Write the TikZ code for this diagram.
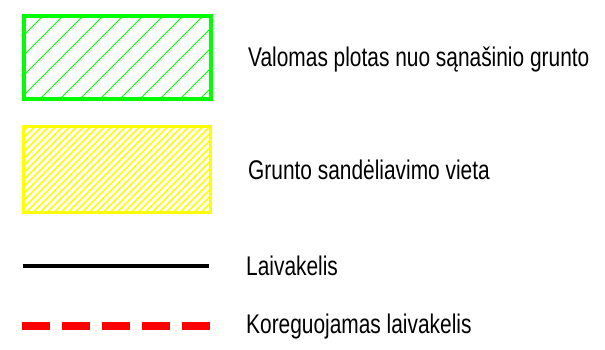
\documentclass[tikz,border=0pt]{standalone}
\usepackage{fontspec}
\setmainfont{Liberation Sans}
\definecolor{lgreen}{HTML}{00FF00}
\definecolor{lyellow}{HTML}{FFFF00}
\definecolor{lred}{HTML}{FF0000}
\tikzset{
  lbl/.style={anchor=base west, inner sep=0pt, font=\fontsize{27}{30}\selectfont},
}
\newcommand{\sq}[1]{\scalebox{0.774}[1]{#1}}
\begin{document}
\begin{tikzpicture}[x=1pt,y=-1pt]
\useasboundingbox (0,0) rectangle (605,349);
% green hatched box
\begin{scope}
  \clip (24,16) rectangle (211,99);
  \foreach \i in {-100,-80,...,220} {
    \draw[lgreen, line width=1pt] (\i,99) -- (\i+83,16);
  }
\end{scope}
\node[draw=lgreen, line width=4pt, minimum width=187pt, minimum height=83pt, inner sep=0pt, outer sep=0pt] (gbox) at (117.5,57.5) {};
% yellow hatched box
\begin{scope}
  \clip (23.5,126.5) rectangle (210.5,212.5);
  \foreach \i in {-100,-93,...,220} {
    \draw[lyellow, line width=1.6pt] (\i,212.5) -- (\i+86,126.5);
  }
\end{scope}
\node[draw=lyellow, line width=3pt, minimum width=187pt, minimum height=86pt, inner sep=0pt, outer sep=0pt] (ybox) at (117,169.5) {};
% black line
\coordinate (l1a) at (23,266);
\coordinate (l1b) at (209,266);
\draw[black, line width=4pt] (l1a) -- (l1b);
% red dashed line
\coordinate (l2a) at (22,326);
\coordinate (l2b) at (210,326);
\draw[lred, line width=8pt, dash pattern=on 28pt off 12pt] (l2a) -- (l2b);
% labels
\node[lbl] (t1) at (248,66) {\sq{Valomas plotas nuo sąnašinio grunto}};
\node[lbl] (t2) at (248,179) {\sq{Grunto sandėliavimo vieta}};
\node[lbl] (t3) at (246,275) {\sq{Laivakelis}};
\node[lbl] (t4) at (246,333) {\sq{Koreguojamas laivakelis}};
\end{tikzpicture}
\end{document}
